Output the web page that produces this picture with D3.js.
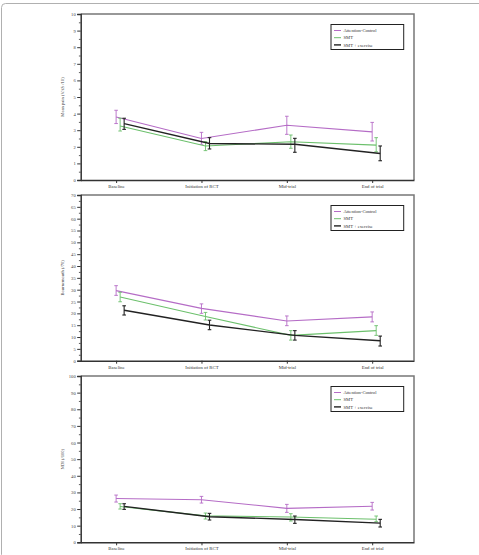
<!DOCTYPE html>
<html>
<head>
<meta charset="utf-8">
<script src="https://cdn.jsdelivr.net/npm/d3@7"></script>
<style>
  body { margin: 0; background: #fff; }
  svg { display: block; font-family: "Liberation Serif", "DejaVu Serif", serif; }
</style>
</head>
<body>
<div id="container"></div>
<script>
// time points on the x axis
const timePoints = ["Baseline", "Initiation of RCT", "Mid-trial", "End of trial"];
const groups = ["Attention-Control", "SMT", "SMT + exercise"];
const groupColors = ["#b56cc6", "#6cc06c", "#222222"];

// Mean pain (VAS /10): means and [low, high] error bars per group
const painMean = [
  [3.8, 2.5, 3.3, 2.9],
  [3.25, 2.05, 2.3, 2.1],
  [3.4, 2.2, 2.15, 1.6]
];
const painErr = [
  [[3.4, 4.2], [2.15, 2.87], [2.75, 3.84], [2.35, 3.47]],
  [[2.95, 3.72], [1.77, 2.31], [1.91, 2.71], [1.7, 2.55]],
  [[3.05, 3.72], [1.87, 2.55], [1.67, 2.51], [1.16, 2.05]]
];

// Bournemouth (/70)
const bournMean = [
  [29.6, 22.1, 16.8, 18.5],
  [26.9, 18.7, 10.7, 12.7],
  [21.3, 15.1, 10.7, 8.4]
];
const bournErr = [
  [[27.6, 31.7], [20.0, 24.0], [14.8, 18.9], [16.4, 20.6]],
  [[24.9, 28.9], [17.2, 20.4], [8.7, 12.7], [10.7, 14.8]],
  [[19.3, 23.2], [13.1, 17.1], [8.7, 12.7], [6.2, 10.4]]
];

// NDI (/100)
const ndiMean = [
  [26.3, 25.6, 20.4, 21.7],
  [21.5, 15.9, 15.2, 13.9],
  [21.6, 15.4, 13.7, 11.5]
];
const ndiErr = [
  [[24.2, 28.4], [23.6, 27.6], [18.0, 22.8], [19.4, 24.0]],
  [[20.0, 23.2], [14.0, 17.6], [12.8, 17.2], [12.4, 15.8]],
  [[19.8, 23.2], [13.4, 17.4], [11.4, 15.8], [9.2, 13.8]]
];

const panels = [
  { label: "Mean pain (VAS /10)", max: 10, major: 1, minor: 0.5, mean: painMean, err: painErr, top: 14, bottom: 180 },
  { label: "Bournemouth (/70)", max: 70, major: 5, minor: 2.5, mean: bournMean, err: bournErr, top: 195, bottom: 360.7 },
  { label: "NDI (/100)", max: 100, major: 10, minor: 5, mean: ndiMean, err: ndiErr, top: 376, bottom: 542.3 }
];

const width = 479, height = 555;
const left = 80.7, right = 414;
const groupOffset = [0, 0.047, 0.094];

const svg = d3.select("#container").append("svg")
  .attr("width", width).attr("height", height);

// outer frame
svg.append("rect")
  .attr("x", 1.5).attr("y", 3.5)
  .attr("width", width + 4).attr("height", height)
  .attr("rx", 4)
  .attr("fill", "none").attr("stroke", "#b0b0b0").attr("stroke-width", 1);

const x = d3.scaleLinear().domain([-0.415, 3.49]).range([left, right]);

const drawPanel = (p) => {
  const y = d3.scaleLinear().domain([0, p.max]).range([p.bottom, p.top]);
  const g = svg.append("g");

  // frame top and right
  g.append("path")
    .attr("d", `M${left},${p.top}H${right}V${p.bottom}`)
    .attr("fill", "none").attr("stroke", "#777").attr("stroke-width", 1.5);

  // y axis
  const yAxis = d3.axisLeft(y)
    .tickValues(d3.range(0, p.max + 0.001, p.major))
    .tickSize(3.5).tickPadding(1.5);
  const ya = g.append("g").attr("transform", `translate(${left},0)`).call(yAxis);
  ya.select(".domain").attr("stroke", "#333").attr("stroke-width", 1.5);
  ya.selectAll(".tick line").attr("stroke", "#333").attr("stroke-width", 1);
  ya.selectAll(".tick text").attr("font-size", 4.6).attr("fill", "#444")
    .attr("font-family", "Liberation Serif");
  const yMinor = d3.axisLeft(y)
    .tickValues(d3.range(p.minor, p.max, p.major))
    .tickSize(1.8).tickFormat("");
  g.append("g").attr("transform", `translate(${left},0)`).call(yMinor)
    .call((s) => s.select(".domain").remove())
    .selectAll(".tick line").attr("stroke", "#333").attr("stroke-width", 0.8);

  // x axis
  const xAxis = d3.axisBottom(x)
    .tickValues(d3.range(timePoints.length))
    .tickFormat((i) => timePoints[i])
    .tickSize(3).tickSizeOuter(0).tickPadding(1.5);
  const xa = g.append("g").attr("transform", `translate(0,${p.bottom})`).call(xAxis);
  xa.select(".domain").attr("stroke", "#333").attr("stroke-width", 1.5);
  xa.selectAll(".tick line").attr("stroke", "#333").attr("stroke-width", 1);
  xa.selectAll(".tick text").attr("font-size", 4.8).attr("fill", "#333")
    .attr("font-family", "Liberation Serif");

  // y label
  g.append("text")
    .attr("transform", `translate(63.5,${(p.top + p.bottom) / 2}) rotate(-90)`)
    .attr("text-anchor", "middle")
    .attr("font-size", 4.6).attr("fill", "#444")
    .text(p.label);

  // series
  const line = d3.line()
    .x((d, i) => x(d.i))
    .y((d) => y(d.v));
  groups.forEach((grp, gi) => {
    const pts = p.mean[gi].map((v, i) => ({ i: i + groupOffset[gi], v: v, e: p.err[gi][i] }));
    const sw = gi === 2 ? 1.4 : 1.1;
    g.append("path")
      .datum(pts)
      .attr("d", line)
      .attr("fill", "none")
      .attr("stroke", groupColors[gi])
      .attr("stroke-width", sw);
    const eb = g.append("g").selectAll("g").data(pts).enter().append("g")
      .attr("stroke", groupColors[gi]).attr("stroke-width", gi === 2 ? 1.1 : 0.9);
    eb.append("line")
      .attr("x1", (d) => x(d.i)).attr("x2", (d) => x(d.i))
      .attr("y1", (d) => y(d.e[0])).attr("y2", (d) => y(d.e[1]));
    [0, 1].forEach((k) => {
      eb.append("line")
        .attr("x1", (d) => x(d.i) - 1.8).attr("x2", (d) => x(d.i) + 1.8)
        .attr("y1", (d) => y(d.e[k])).attr("y2", (d) => y(d.e[k]));
    });
  });

  // legend
  const lg = g.append("g").attr("transform", `translate(331,${p.top + 10.5})`);
  lg.append("rect")
    .attr("width", 72.7).attr("height", 25)
    .attr("fill", "#fff").attr("stroke", "#222").attr("stroke-width", 1);
  groups.forEach((grp, gi) => {
    const ly = 6 + gi * 7.2;
    lg.append("line")
      .attr("x1", 3).attr("x2", 10).attr("y1", ly).attr("y2", ly)
      .attr("stroke", groupColors[gi]).attr("stroke-width", gi === 2 ? 1.4 : 1);
    lg.append("text")
      .attr("x", 12.5).attr("y", ly + 1.6)
      .attr("font-size", 4.6).attr("fill", "#333")
      .text(grp);
  });
};

panels.forEach(drawPanel);
</script>
</body>
</html>
